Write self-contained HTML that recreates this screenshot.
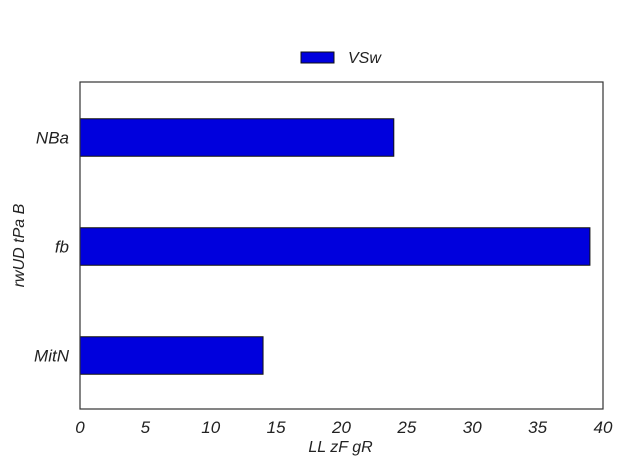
<!DOCTYPE html>
<html><head><meta charset="utf-8"><style>
body{margin:0;background:#fff;}
svg text{font-family:"Liberation Sans",sans-serif;font-style:italic;fill:#222;}
</style></head><body>
<svg id="chart" width="624" height="468"></svg>
<script>
const categories=["NBa","fb","MitN"];
const values=[24,39,14];
const xTicks=[0,5,10,15,20,25,30,35,40];
const NS="http://www.w3.org/2000/svg";
const svg=document.getElementById('chart');
const L=80,R=603,T=82,B=409;
const xMin=0,xMax=40;
function xs(v){return L+(v-xMin)/(xMax-xMin)*(R-L);}
const band=(B-T)/categories.length;
function yc(i){return T+band*(i+0.5)+1;}
function mk(tag,attrs,txt){const e=document.createElementNS(NS,tag);for(const k in attrs)e.setAttribute(k,attrs[k]);if(txt!==undefined)e.textContent=txt;svg.appendChild(e);return e;}
const bh=37.5;
values.forEach((v,i)=>{
  const r=mk('rect',{x:xs(0),y:yc(i)-bh/2,width:xs(v)-xs(0),height:bh,fill:'#0000dd',stroke:'#111','stroke-width':1});
  
  
  const t=mk('text',{x:69,y:yc(i)+6,'text-anchor':'end','font-size':17},categories[i]);
  
  
});
xTicks.forEach(v=>{
  const t=mk('text',{x:xs(v),y:433,'text-anchor':'middle','font-size':17},String(v));
  
  
});
const f=mk('rect',{x:L,y:T,width:R-L,height:B-T,fill:'none',stroke:'#333','stroke-width':1.2});


const xt=mk('text',{x:(L+R)/2-1,y:452,'text-anchor':'middle','font-size':16},'LL zF gR');


const yt=mk('text',{x:24,y:(T+B)/2,'text-anchor':'middle','font-size':16,transform:'rotate(-90 24 '+((T+B)/2)+')'},'rwUD tPa B');


const lr=mk('rect',{x:301,y:52,width:33,height:11,fill:'#0000dd',stroke:'#111','stroke-width':1});


const lt=mk('text',{x:348,y:63,'font-size':16},'VSw');


</script>
</body></html>
